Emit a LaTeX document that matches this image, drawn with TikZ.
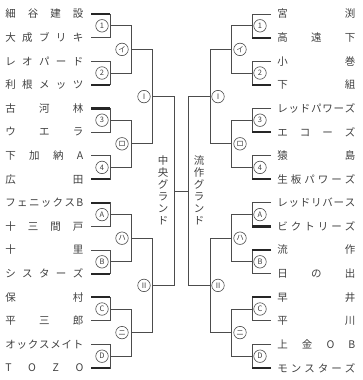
\documentclass[tikz,border=0pt]{standalone}
\usepackage{fontspec}
\setmainfont{Noto Sans CJK JP}

% spread the letters of a name over a fixed width
\def\spreadname#1{\hbox to 78pt{\spreadloop#1\relax}}
\def\spreadloop#1{#1\spreadnext}
\def\spreadnext#1{\ifx#1\relax\else\hfill#1\expandafter\spreadnext\fi}

\tikzset{
  team/.style={anchor=west, inner sep=0pt, text=black!75, font=\fontsize{10.5}{12}\selectfont},
  rnd/.style={draw, circle, line width=0.6pt, inner sep=0pt, minimum size=12.5pt,
              text=black!75, font=\fontsize{7.5}{7.5}\selectfont},
  win/.style={line width=2.2pt, color=black!85},
  ground/.style={align=center, text=black!75, font=\fontsize{10.5}{12}\selectfont},
}

\begin{document}
\begin{tikzpicture}[x=1pt, y=-1pt, line width=0.7pt, color=black!70]
\useasboundingbox (0,0) rectangle (363,380);

\foreach \nm [count=\i] in {細谷建設,大成ブリキ,レオパード,利根メッツ,古河林,ウエラ,下加納A,広田,
    フェニックスB,十三間戸,十里,シスターズ,保村,平三郎,オックスメイト,TOZO}
  \node[team] (L\i) at (5,{14+(\i-1)*23.6}) {\expandafter\spreadname\expandafter{\nm}};
\foreach \nm [count=\i] in {宮渕,高遠下,小巻,下組,レッドパワーズ,エコーズ,猿島,生板パワーズ,
    レッドリバース,ビクトリーズ,流作,日の出,早井,平川,上金OB,モンスターズ}
  \node[team] (R\i) at (277,{14+(\i-1)*23.6}) {\expandafter\spreadname\expandafter{\nm}};

% brackets, right side mirrored
\foreach \sd/\fl in {L/1,R/-1}{
  \begin{scope}[xshift={(1-(\fl))*181}, xscale=\fl]
    \foreach \i in {1,...,16}
      \coordinate (\sd p\i) at (91,{14+(\i-1)*23.6});
    % first round
    \foreach \lb [count=\k] in {1,2,3,4,A,B,C,D}{
      \pgfmathtruncatemacro\ia{2*\k-1}
      \pgfmathtruncatemacro\ib{2*\k}
      \draw (\sd p\ia) -- ++(19,0) |- (\sd p\ib);
      \coordinate (\sd q\k) at (110,{14+(2*\k-1.5)*23.6});
      \node[rnd] (\sd c\k) at (102,{14+(2*\k-1.5)*23.6}) {\lb};
    }
    % second round
    \foreach \lb [count=\k] in {イ,ロ,ハ,ニ}{
      \pgfmathtruncatemacro\ia{2*\k-1}
      \pgfmathtruncatemacro\ib{2*\k}
      \draw (\sd q\ia) -- ++(21,0) |- (\sd q\ib);
      \coordinate (\sd r\k) at (131,{14+(4*\k-2.5)*23.6});
      \node[rnd] (\sd d\k) at (122,{14+(4*\k-2.5)*23.6}) {\lb};
    }
    % third round
    \foreach \lb [count=\k] in {Ⅰ,Ⅱ}{
      \pgfmathtruncatemacro\ia{2*\k-1}
      \pgfmathtruncatemacro\ib{2*\k}
      \draw (\sd r\ia) -- ++(21,0) |- (\sd r\ib);
      \coordinate (\sd s\k) at (152,{14+(8*\k-4.5)*23.6});
      \node[rnd] (\sd e\k) at (144,{14+(8*\k-4.5)*23.6}) {\lb};
    }
    \draw (\sd s1) -- ++(22,0) |- (\sd s2);
    \coordinate (\sd f) at (174,{14+7.5*23.6});
  \end{scope}
}
\draw (Lf) -- (Rf);

% winners
\foreach \i in {1,4,5,8,9,12,13,16}
  \draw[win] (Lp\i) -- ++(19,0);
\foreach \i in {2,4,6,8,10,11,13,16}
  \draw[win] (Rp\i) -- ++(-19,0);

\node[ground] (cg) at (163,190) {中\\央\\グ\\ラ\\ン\\ド};
\node[ground] (rg) at (199,190) {流\\作\\グ\\ラ\\ン\\ド};
\end{tikzpicture}
\end{document}
